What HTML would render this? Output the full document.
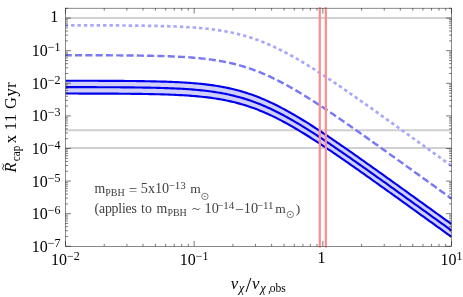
<!DOCTYPE html>
<html><head><meta charset="utf-8"><title>plot</title>
<style>
html,body{margin:0;padding:0;background:#fff;}
body{width:463px;height:297px;overflow:hidden;font-family:"Liberation Serif",serif;}
svg{display:block;font-family:"Liberation Serif",serif;}
.tl{font-size:16px;fill:#000;}
.sup{font-size:12px;}
.an{font-size:12px;fill:#444;}
.ans{font-size:8.5px;}
.ansup{font-size:8.5px;}
</style></head><body>
<svg width="463" height="297" viewBox="0 0 463 297" style="will-change:transform">
<rect width="463" height="297" fill="#fff"/>
<g stroke="#d0d0d0" stroke-width="2.0" fill="none">
<path d="M65.5 18.1H451.5"/><path d="M65.5 130.2H451.5"/><path d="M65.5 148.1H451.5"/>
</g>
<clipPath id="c"><rect x="65.5" y="8.2" width="386.0" height="238.10000000000002"/></clipPath>
<g clip-path="url(#c)" fill="none">
<path d="M65.5 80.73 L67.5 80.73 L69.5 80.74 L71.5 80.74 L73.5 80.74 L75.5 80.74 L77.5 80.75 L79.5 80.75 L81.5 80.76 L83.5 80.76 L85.5 80.76 L87.5 80.77 L89.5 80.77 L91.5 80.78 L93.5 80.78 L95.5 80.79 L97.5 80.80 L99.5 80.80 L101.5 80.81 L103.5 80.82 L105.5 80.83 L107.5 80.84 L109.5 80.84 L111.5 80.86 L113.5 80.87 L115.5 80.88 L117.5 80.89 L119.5 80.90 L121.5 80.92 L123.5 80.93 L125.5 80.95 L127.5 80.97 L129.5 80.99 L131.5 81.01 L133.5 81.03 L135.5 81.05 L137.5 81.08 L139.5 81.11 L141.5 81.14 L143.5 81.17 L145.5 81.20 L147.5 81.23 L149.5 81.27 L151.5 81.31 L153.5 81.36 L155.5 81.40 L157.5 81.45 L159.5 81.50 L161.5 81.56 L163.5 81.62 L165.5 81.68 L167.5 81.75 L169.5 81.83 L171.5 81.91 L173.5 81.99 L175.5 82.08 L177.5 82.17 L179.5 82.28 L181.5 82.38 L183.5 82.50 L185.5 82.62 L187.5 82.75 L189.5 82.89 L191.5 83.04 L193.5 83.20 L195.5 83.37 L197.5 83.55 L199.5 83.74 L201.5 83.94 L203.5 84.15 L205.5 84.38 L207.5 84.62 L209.5 84.87 L211.5 85.14 L213.5 85.43 L215.5 85.73 L217.5 86.04 L219.5 86.38 L221.5 86.73 L223.5 87.10 L225.5 87.50 L227.5 87.91 L229.5 88.34 L231.5 88.79 L233.5 89.27 L235.5 89.77 L237.5 90.29 L239.5 90.83 L241.5 91.40 L243.5 91.99 L245.5 92.60 L247.5 93.24 L249.5 93.91 L251.5 94.60 L253.5 95.31 L255.5 96.05 L257.5 96.82 L259.5 97.61 L261.5 98.42 L263.5 99.26 L265.5 100.12 L267.5 101.01 L269.5 101.92 L271.5 102.85 L273.5 103.81 L275.5 104.79 L277.5 105.79 L279.5 106.81 L281.5 107.85 L283.5 108.91 L285.5 109.99 L287.5 111.09 L289.5 112.21 L291.5 113.34 L293.5 114.49 L295.5 115.66 L297.5 116.84 L299.5 118.04 L301.5 119.25 L303.5 120.47 L305.5 121.71 L307.5 122.95 L309.5 124.21 L311.5 125.49 L313.5 126.77 L315.5 128.06 L317.5 129.36 L319.5 130.67 L321.5 131.98 L323.5 133.31 L325.5 134.64 L327.5 135.98 L329.5 137.33 L331.5 138.68 L333.5 140.04 L335.5 141.40 L337.5 142.77 L339.5 144.15 L341.5 145.53 L343.5 146.91 L345.5 148.30 L347.5 149.69 L349.5 151.08 L351.5 152.48 L353.5 153.88 L355.5 155.28 L357.5 156.69 L359.5 158.10 L361.5 159.51 L363.5 160.92 L365.5 162.34 L367.5 163.76 L369.5 165.18 L371.5 166.60 L373.5 168.02 L375.5 169.45 L377.5 170.87 L379.5 172.30 L381.5 173.73 L383.5 175.16 L385.5 176.59 L387.5 178.02 L389.5 179.45 L391.5 180.88 L393.5 182.32 L395.5 183.75 L397.5 185.19 L399.5 186.63 L401.5 188.06 L403.5 189.50 L405.5 190.94 L407.5 192.38 L409.5 193.82 L411.5 195.26 L413.5 196.70 L415.5 198.14 L417.5 199.58 L419.5 201.02 L421.5 202.46 L423.5 203.90 L425.5 205.34 L427.5 206.79 L429.5 208.23 L431.5 209.67 L433.5 211.11 L435.5 212.56 L437.5 214.00 L439.5 215.44 L441.5 216.89 L443.5 218.33 L445.5 219.78 L447.5 221.22 L449.5 222.66 L451.5 224.11 L451.5 236.91 L449.5 235.46 L447.5 234.02 L445.5 232.58 L443.5 231.13 L441.5 229.69 L439.5 228.24 L437.5 226.80 L435.5 225.36 L433.5 223.91 L431.5 222.47 L429.5 221.03 L427.5 219.59 L425.5 218.14 L423.5 216.70 L421.5 215.26 L419.5 213.82 L417.5 212.38 L415.5 210.94 L413.5 209.50 L411.5 208.06 L409.5 206.62 L407.5 205.18 L405.5 203.74 L403.5 202.30 L401.5 200.86 L399.5 199.43 L397.5 197.99 L395.5 196.55 L393.5 195.12 L391.5 193.68 L389.5 192.25 L387.5 190.82 L385.5 189.39 L383.5 187.96 L381.5 186.53 L379.5 185.10 L377.5 183.67 L375.5 182.25 L373.5 180.82 L371.5 179.40 L369.5 177.98 L367.5 176.56 L365.5 175.14 L363.5 173.72 L361.5 172.31 L359.5 170.90 L357.5 169.49 L355.5 168.08 L353.5 166.68 L351.5 165.28 L349.5 163.88 L347.5 162.49 L345.5 161.10 L343.5 159.71 L341.5 158.33 L339.5 156.95 L337.5 155.57 L335.5 154.20 L333.5 152.84 L331.5 151.48 L329.5 150.13 L327.5 148.78 L325.5 147.44 L323.5 146.11 L321.5 144.78 L319.5 143.47 L317.5 142.16 L315.5 140.86 L313.5 139.57 L311.5 138.29 L309.5 137.01 L307.5 135.75 L305.5 134.51 L303.5 133.27 L301.5 132.05 L299.5 130.84 L297.5 129.64 L295.5 128.46 L293.5 127.29 L291.5 126.14 L289.5 125.01 L287.5 123.89 L285.5 122.79 L283.5 121.71 L281.5 120.65 L279.5 119.61 L277.5 118.59 L275.5 117.59 L273.5 116.61 L271.5 115.65 L269.5 114.72 L267.5 113.81 L265.5 112.92 L263.5 112.06 L261.5 111.22 L259.5 110.41 L257.5 109.62 L255.5 108.85 L253.5 108.11 L251.5 107.40 L249.5 106.71 L247.5 106.04 L245.5 105.40 L243.5 104.79 L241.5 104.20 L239.5 103.63 L237.5 103.09 L235.5 102.57 L233.5 102.07 L231.5 101.59 L229.5 101.14 L227.5 100.71 L225.5 100.30 L223.5 99.90 L221.5 99.53 L219.5 99.18 L217.5 98.84 L215.5 98.53 L213.5 98.23 L211.5 97.94 L209.5 97.67 L207.5 97.42 L205.5 97.18 L203.5 96.95 L201.5 96.74 L199.5 96.54 L197.5 96.35 L195.5 96.17 L193.5 96.00 L191.5 95.84 L189.5 95.69 L187.5 95.55 L185.5 95.42 L183.5 95.30 L181.5 95.18 L179.5 95.08 L177.5 94.97 L175.5 94.88 L173.5 94.79 L171.5 94.71 L169.5 94.63 L167.5 94.55 L165.5 94.48 L163.5 94.42 L161.5 94.36 L159.5 94.30 L157.5 94.25 L155.5 94.20 L153.5 94.16 L151.5 94.11 L149.5 94.07 L147.5 94.03 L145.5 94.00 L143.5 93.97 L141.5 93.94 L139.5 93.91 L137.5 93.88 L135.5 93.85 L133.5 93.83 L131.5 93.81 L129.5 93.79 L127.5 93.77 L125.5 93.75 L123.5 93.73 L121.5 93.72 L119.5 93.70 L117.5 93.69 L115.5 93.68 L113.5 93.67 L111.5 93.66 L109.5 93.64 L107.5 93.64 L105.5 93.63 L103.5 93.62 L101.5 93.61 L99.5 93.60 L97.5 93.60 L95.5 93.59 L93.5 93.58 L91.5 93.58 L89.5 93.57 L87.5 93.57 L85.5 93.56 L83.5 93.56 L81.5 93.56 L79.5 93.55 L77.5 93.55 L75.5 93.54 L73.5 93.54 L71.5 93.54 L69.5 93.54 L67.5 93.53 L65.5 93.53 Z" fill="#d0d0f9" stroke="none"/>
<path d="M65.5 80.73 L67.5 80.73 L69.5 80.74 L71.5 80.74 L73.5 80.74 L75.5 80.74 L77.5 80.75 L79.5 80.75 L81.5 80.76 L83.5 80.76 L85.5 80.76 L87.5 80.77 L89.5 80.77 L91.5 80.78 L93.5 80.78 L95.5 80.79 L97.5 80.80 L99.5 80.80 L101.5 80.81 L103.5 80.82 L105.5 80.83 L107.5 80.84 L109.5 80.84 L111.5 80.86 L113.5 80.87 L115.5 80.88 L117.5 80.89 L119.5 80.90 L121.5 80.92 L123.5 80.93 L125.5 80.95 L127.5 80.97 L129.5 80.99 L131.5 81.01 L133.5 81.03 L135.5 81.05 L137.5 81.08 L139.5 81.11 L141.5 81.14 L143.5 81.17 L145.5 81.20 L147.5 81.23 L149.5 81.27 L151.5 81.31 L153.5 81.36 L155.5 81.40 L157.5 81.45 L159.5 81.50 L161.5 81.56 L163.5 81.62 L165.5 81.68 L167.5 81.75 L169.5 81.83 L171.5 81.91 L173.5 81.99 L175.5 82.08 L177.5 82.17 L179.5 82.28 L181.5 82.38 L183.5 82.50 L185.5 82.62 L187.5 82.75 L189.5 82.89 L191.5 83.04 L193.5 83.20 L195.5 83.37 L197.5 83.55 L199.5 83.74 L201.5 83.94 L203.5 84.15 L205.5 84.38 L207.5 84.62 L209.5 84.87 L211.5 85.14 L213.5 85.43 L215.5 85.73 L217.5 86.04 L219.5 86.38 L221.5 86.73 L223.5 87.10 L225.5 87.50 L227.5 87.91 L229.5 88.34 L231.5 88.79 L233.5 89.27 L235.5 89.77 L237.5 90.29 L239.5 90.83 L241.5 91.40 L243.5 91.99 L245.5 92.60 L247.5 93.24 L249.5 93.91 L251.5 94.60 L253.5 95.31 L255.5 96.05 L257.5 96.82 L259.5 97.61 L261.5 98.42 L263.5 99.26 L265.5 100.12 L267.5 101.01 L269.5 101.92 L271.5 102.85 L273.5 103.81 L275.5 104.79 L277.5 105.79 L279.5 106.81 L281.5 107.85 L283.5 108.91 L285.5 109.99 L287.5 111.09 L289.5 112.21 L291.5 113.34 L293.5 114.49 L295.5 115.66 L297.5 116.84 L299.5 118.04 L301.5 119.25 L303.5 120.47 L305.5 121.71 L307.5 122.95 L309.5 124.21 L311.5 125.49 L313.5 126.77 L315.5 128.06 L317.5 129.36 L319.5 130.67 L321.5 131.98 L323.5 133.31 L325.5 134.64 L327.5 135.98 L329.5 137.33 L331.5 138.68 L333.5 140.04 L335.5 141.40 L337.5 142.77 L339.5 144.15 L341.5 145.53 L343.5 146.91 L345.5 148.30 L347.5 149.69 L349.5 151.08 L351.5 152.48 L353.5 153.88 L355.5 155.28 L357.5 156.69 L359.5 158.10 L361.5 159.51 L363.5 160.92 L365.5 162.34 L367.5 163.76 L369.5 165.18 L371.5 166.60 L373.5 168.02 L375.5 169.45 L377.5 170.87 L379.5 172.30 L381.5 173.73 L383.5 175.16 L385.5 176.59 L387.5 178.02 L389.5 179.45 L391.5 180.88 L393.5 182.32 L395.5 183.75 L397.5 185.19 L399.5 186.63 L401.5 188.06 L403.5 189.50 L405.5 190.94 L407.5 192.38 L409.5 193.82 L411.5 195.26 L413.5 196.70 L415.5 198.14 L417.5 199.58 L419.5 201.02 L421.5 202.46 L423.5 203.90 L425.5 205.34 L427.5 206.79 L429.5 208.23 L431.5 209.67 L433.5 211.11 L435.5 212.56 L437.5 214.00 L439.5 215.44 L441.5 216.89 L443.5 218.33 L445.5 219.78 L447.5 221.22 L449.5 222.66 L451.5 224.11" stroke="#0000ee" stroke-width="2.15"/>
<path d="M65.5 87.13 L67.5 87.13 L69.5 87.14 L71.5 87.14 L73.5 87.14 L75.5 87.14 L77.5 87.15 L79.5 87.15 L81.5 87.16 L83.5 87.16 L85.5 87.16 L87.5 87.17 L89.5 87.17 L91.5 87.18 L93.5 87.18 L95.5 87.19 L97.5 87.20 L99.5 87.20 L101.5 87.21 L103.5 87.22 L105.5 87.23 L107.5 87.24 L109.5 87.24 L111.5 87.26 L113.5 87.27 L115.5 87.28 L117.5 87.29 L119.5 87.30 L121.5 87.32 L123.5 87.33 L125.5 87.35 L127.5 87.37 L129.5 87.39 L131.5 87.41 L133.5 87.43 L135.5 87.45 L137.5 87.48 L139.5 87.51 L141.5 87.54 L143.5 87.57 L145.5 87.60 L147.5 87.63 L149.5 87.67 L151.5 87.71 L153.5 87.76 L155.5 87.80 L157.5 87.85 L159.5 87.90 L161.5 87.96 L163.5 88.02 L165.5 88.08 L167.5 88.15 L169.5 88.23 L171.5 88.31 L173.5 88.39 L175.5 88.48 L177.5 88.57 L179.5 88.68 L181.5 88.78 L183.5 88.90 L185.5 89.02 L187.5 89.15 L189.5 89.29 L191.5 89.44 L193.5 89.60 L195.5 89.77 L197.5 89.95 L199.5 90.14 L201.5 90.34 L203.5 90.55 L205.5 90.78 L207.5 91.02 L209.5 91.27 L211.5 91.54 L213.5 91.83 L215.5 92.13 L217.5 92.44 L219.5 92.78 L221.5 93.13 L223.5 93.50 L225.5 93.90 L227.5 94.31 L229.5 94.74 L231.5 95.19 L233.5 95.67 L235.5 96.17 L237.5 96.69 L239.5 97.23 L241.5 97.80 L243.5 98.39 L245.5 99.00 L247.5 99.64 L249.5 100.31 L251.5 101.00 L253.5 101.71 L255.5 102.45 L257.5 103.22 L259.5 104.01 L261.5 104.82 L263.5 105.66 L265.5 106.52 L267.5 107.41 L269.5 108.32 L271.5 109.25 L273.5 110.21 L275.5 111.19 L277.5 112.19 L279.5 113.21 L281.5 114.25 L283.5 115.31 L285.5 116.39 L287.5 117.49 L289.5 118.61 L291.5 119.74 L293.5 120.89 L295.5 122.06 L297.5 123.24 L299.5 124.44 L301.5 125.65 L303.5 126.87 L305.5 128.11 L307.5 129.35 L309.5 130.61 L311.5 131.89 L313.5 133.17 L315.5 134.46 L317.5 135.76 L319.5 137.07 L321.5 138.38 L323.5 139.71 L325.5 141.04 L327.5 142.38 L329.5 143.73 L331.5 145.08 L333.5 146.44 L335.5 147.80 L337.5 149.17 L339.5 150.55 L341.5 151.93 L343.5 153.31 L345.5 154.70 L347.5 156.09 L349.5 157.48 L351.5 158.88 L353.5 160.28 L355.5 161.68 L357.5 163.09 L359.5 164.50 L361.5 165.91 L363.5 167.32 L365.5 168.74 L367.5 170.16 L369.5 171.58 L371.5 173.00 L373.5 174.42 L375.5 175.85 L377.5 177.27 L379.5 178.70 L381.5 180.13 L383.5 181.56 L385.5 182.99 L387.5 184.42 L389.5 185.85 L391.5 187.28 L393.5 188.72 L395.5 190.15 L397.5 191.59 L399.5 193.03 L401.5 194.46 L403.5 195.90 L405.5 197.34 L407.5 198.78 L409.5 200.22 L411.5 201.66 L413.5 203.10 L415.5 204.54 L417.5 205.98 L419.5 207.42 L421.5 208.86 L423.5 210.30 L425.5 211.74 L427.5 213.19 L429.5 214.63 L431.5 216.07 L433.5 217.51 L435.5 218.96 L437.5 220.40 L439.5 221.84 L441.5 223.29 L443.5 224.73 L445.5 226.18 L447.5 227.62 L449.5 229.06 L451.5 230.51" stroke="#0000ee" stroke-width="2.15"/>
<path d="M65.5 93.53 L67.5 93.53 L69.5 93.54 L71.5 93.54 L73.5 93.54 L75.5 93.54 L77.5 93.55 L79.5 93.55 L81.5 93.56 L83.5 93.56 L85.5 93.56 L87.5 93.57 L89.5 93.57 L91.5 93.58 L93.5 93.58 L95.5 93.59 L97.5 93.60 L99.5 93.60 L101.5 93.61 L103.5 93.62 L105.5 93.63 L107.5 93.64 L109.5 93.64 L111.5 93.66 L113.5 93.67 L115.5 93.68 L117.5 93.69 L119.5 93.70 L121.5 93.72 L123.5 93.73 L125.5 93.75 L127.5 93.77 L129.5 93.79 L131.5 93.81 L133.5 93.83 L135.5 93.85 L137.5 93.88 L139.5 93.91 L141.5 93.94 L143.5 93.97 L145.5 94.00 L147.5 94.03 L149.5 94.07 L151.5 94.11 L153.5 94.16 L155.5 94.20 L157.5 94.25 L159.5 94.30 L161.5 94.36 L163.5 94.42 L165.5 94.48 L167.5 94.55 L169.5 94.63 L171.5 94.71 L173.5 94.79 L175.5 94.88 L177.5 94.97 L179.5 95.08 L181.5 95.18 L183.5 95.30 L185.5 95.42 L187.5 95.55 L189.5 95.69 L191.5 95.84 L193.5 96.00 L195.5 96.17 L197.5 96.35 L199.5 96.54 L201.5 96.74 L203.5 96.95 L205.5 97.18 L207.5 97.42 L209.5 97.67 L211.5 97.94 L213.5 98.23 L215.5 98.53 L217.5 98.84 L219.5 99.18 L221.5 99.53 L223.5 99.90 L225.5 100.30 L227.5 100.71 L229.5 101.14 L231.5 101.59 L233.5 102.07 L235.5 102.57 L237.5 103.09 L239.5 103.63 L241.5 104.20 L243.5 104.79 L245.5 105.40 L247.5 106.04 L249.5 106.71 L251.5 107.40 L253.5 108.11 L255.5 108.85 L257.5 109.62 L259.5 110.41 L261.5 111.22 L263.5 112.06 L265.5 112.92 L267.5 113.81 L269.5 114.72 L271.5 115.65 L273.5 116.61 L275.5 117.59 L277.5 118.59 L279.5 119.61 L281.5 120.65 L283.5 121.71 L285.5 122.79 L287.5 123.89 L289.5 125.01 L291.5 126.14 L293.5 127.29 L295.5 128.46 L297.5 129.64 L299.5 130.84 L301.5 132.05 L303.5 133.27 L305.5 134.51 L307.5 135.75 L309.5 137.01 L311.5 138.29 L313.5 139.57 L315.5 140.86 L317.5 142.16 L319.5 143.47 L321.5 144.78 L323.5 146.11 L325.5 147.44 L327.5 148.78 L329.5 150.13 L331.5 151.48 L333.5 152.84 L335.5 154.20 L337.5 155.57 L339.5 156.95 L341.5 158.33 L343.5 159.71 L345.5 161.10 L347.5 162.49 L349.5 163.88 L351.5 165.28 L353.5 166.68 L355.5 168.08 L357.5 169.49 L359.5 170.90 L361.5 172.31 L363.5 173.72 L365.5 175.14 L367.5 176.56 L369.5 177.98 L371.5 179.40 L373.5 180.82 L375.5 182.25 L377.5 183.67 L379.5 185.10 L381.5 186.53 L383.5 187.96 L385.5 189.39 L387.5 190.82 L389.5 192.25 L391.5 193.68 L393.5 195.12 L395.5 196.55 L397.5 197.99 L399.5 199.43 L401.5 200.86 L403.5 202.30 L405.5 203.74 L407.5 205.18 L409.5 206.62 L411.5 208.06 L413.5 209.50 L415.5 210.94 L417.5 212.38 L419.5 213.82 L421.5 215.26 L423.5 216.70 L425.5 218.14 L427.5 219.59 L429.5 221.03 L431.5 222.47 L433.5 223.91 L435.5 225.36 L437.5 226.80 L439.5 228.24 L441.5 229.69 L443.5 231.13 L445.5 232.58 L447.5 234.02 L449.5 235.46 L451.5 236.91" stroke="#0000ee" stroke-width="2.15"/>
<path d="M65.5 55.23 L67.5 55.23 L69.5 55.24 L71.5 55.24 L73.5 55.24 L75.5 55.24 L77.5 55.25 L79.5 55.25 L81.5 55.26 L83.5 55.26 L85.5 55.26 L87.5 55.27 L89.5 55.27 L91.5 55.28 L93.5 55.28 L95.5 55.29 L97.5 55.30 L99.5 55.30 L101.5 55.31 L103.5 55.32 L105.5 55.33 L107.5 55.34 L109.5 55.34 L111.5 55.36 L113.5 55.37 L115.5 55.38 L117.5 55.39 L119.5 55.40 L121.5 55.42 L123.5 55.43 L125.5 55.45 L127.5 55.47 L129.5 55.49 L131.5 55.51 L133.5 55.53 L135.5 55.55 L137.5 55.58 L139.5 55.61 L141.5 55.64 L143.5 55.67 L145.5 55.70 L147.5 55.73 L149.5 55.77 L151.5 55.81 L153.5 55.86 L155.5 55.90 L157.5 55.95 L159.5 56.00 L161.5 56.06 L163.5 56.12 L165.5 56.18 L167.5 56.25 L169.5 56.33 L171.5 56.41 L173.5 56.49 L175.5 56.58 L177.5 56.67 L179.5 56.78 L181.5 56.88 L183.5 57.00 L185.5 57.12 L187.5 57.25 L189.5 57.39 L191.5 57.54 L193.5 57.70 L195.5 57.87 L197.5 58.05 L199.5 58.24 L201.5 58.44 L203.5 58.65 L205.5 58.88 L207.5 59.12 L209.5 59.37 L211.5 59.64 L213.5 59.93 L215.5 60.23 L217.5 60.54 L219.5 60.88 L221.5 61.23 L223.5 61.60 L225.5 62.00 L227.5 62.41 L229.5 62.84 L231.5 63.29 L233.5 63.77 L235.5 64.27 L237.5 64.79 L239.5 65.33 L241.5 65.90 L243.5 66.49 L245.5 67.10 L247.5 67.74 L249.5 68.41 L251.5 69.10 L253.5 69.81 L255.5 70.55 L257.5 71.32 L259.5 72.11 L261.5 72.92 L263.5 73.76 L265.5 74.62 L267.5 75.51 L269.5 76.42 L271.5 77.35 L273.5 78.31 L275.5 79.29 L277.5 80.29 L279.5 81.31 L281.5 82.35 L283.5 83.41 L285.5 84.49 L287.5 85.59 L289.5 86.71 L291.5 87.84 L293.5 88.99 L295.5 90.16 L297.5 91.34 L299.5 92.54 L301.5 93.75 L303.5 94.97 L305.5 96.21 L307.5 97.45 L309.5 98.71 L311.5 99.99 L313.5 101.27 L315.5 102.56 L317.5 103.86 L319.5 105.17 L321.5 106.48 L323.5 107.81 L325.5 109.14 L327.5 110.48 L329.5 111.83 L331.5 113.18 L333.5 114.54 L335.5 115.90 L337.5 117.27 L339.5 118.65 L341.5 120.03 L343.5 121.41 L345.5 122.80 L347.5 124.19 L349.5 125.58 L351.5 126.98 L353.5 128.38 L355.5 129.78 L357.5 131.19 L359.5 132.60 L361.5 134.01 L363.5 135.42 L365.5 136.84 L367.5 138.26 L369.5 139.68 L371.5 141.10 L373.5 142.52 L375.5 143.95 L377.5 145.37 L379.5 146.80 L381.5 148.23 L383.5 149.66 L385.5 151.09 L387.5 152.52 L389.5 153.95 L391.5 155.38 L393.5 156.82 L395.5 158.25 L397.5 159.69 L399.5 161.13 L401.5 162.56 L403.5 164.00 L405.5 165.44 L407.5 166.88 L409.5 168.32 L411.5 169.76 L413.5 171.20 L415.5 172.64 L417.5 174.08 L419.5 175.52 L421.5 176.96 L423.5 178.40 L425.5 179.84 L427.5 181.29 L429.5 182.73 L431.5 184.17 L433.5 185.61 L435.5 187.06 L437.5 188.50 L439.5 189.94 L441.5 191.39 L443.5 192.83 L445.5 194.28 L447.5 195.72 L449.5 197.16 L451.5 198.61" stroke="#7878f5" stroke-width="2.45" stroke-dasharray="7.1 3.2" stroke-dashoffset="0.8"/>
<path d="M65.5 25.33 L67.5 25.33 L69.5 25.33 L71.5 25.33 L73.5 25.34 L75.5 25.34 L77.5 25.34 L79.5 25.35 L81.5 25.35 L83.5 25.35 L85.5 25.36 L87.5 25.36 L89.5 25.36 L91.5 25.37 L93.5 25.37 L95.5 25.38 L97.5 25.38 L99.5 25.39 L101.5 25.40 L103.5 25.40 L105.5 25.41 L107.5 25.42 L109.5 25.43 L111.5 25.44 L113.5 25.45 L115.5 25.46 L117.5 25.47 L119.5 25.48 L121.5 25.49 L123.5 25.51 L125.5 25.52 L127.5 25.54 L129.5 25.55 L131.5 25.57 L133.5 25.59 L135.5 25.61 L137.5 25.63 L139.5 25.66 L141.5 25.68 L143.5 25.71 L145.5 25.74 L147.5 25.77 L149.5 25.80 L151.5 25.84 L153.5 25.87 L155.5 25.92 L157.5 25.96 L159.5 26.00 L161.5 26.05 L163.5 26.11 L165.5 26.16 L167.5 26.22 L169.5 26.29 L171.5 26.36 L173.5 26.43 L175.5 26.51 L177.5 26.60 L179.5 26.68 L181.5 26.78 L183.5 26.88 L185.5 26.99 L187.5 27.11 L189.5 27.23 L191.5 27.36 L193.5 27.50 L195.5 27.65 L197.5 27.81 L199.5 27.98 L201.5 28.16 L203.5 28.35 L205.5 28.55 L207.5 28.77 L209.5 28.99 L211.5 29.24 L213.5 29.49 L215.5 29.76 L217.5 30.05 L219.5 30.35 L221.5 30.67 L223.5 31.00 L225.5 31.36 L227.5 31.73 L229.5 32.12 L231.5 32.54 L233.5 32.97 L235.5 33.43 L237.5 33.90 L239.5 34.40 L241.5 34.92 L243.5 35.47 L245.5 36.04 L247.5 36.63 L249.5 37.25 L251.5 37.89 L253.5 38.56 L255.5 39.25 L257.5 39.96 L259.5 40.70 L261.5 41.47 L263.5 42.26 L265.5 43.08 L267.5 43.92 L269.5 44.78 L271.5 45.67 L273.5 46.58 L275.5 47.52 L277.5 48.48 L279.5 49.46 L281.5 50.46 L283.5 51.48 L285.5 52.52 L287.5 53.58 L289.5 54.67 L291.5 55.77 L293.5 56.88 L295.5 58.02 L297.5 59.17 L299.5 60.34 L301.5 61.52 L303.5 62.72 L305.5 63.93 L307.5 65.16 L309.5 66.39 L311.5 67.64 L313.5 68.90 L315.5 70.17 L317.5 71.46 L319.5 72.75 L321.5 74.05 L323.5 75.36 L325.5 76.68 L327.5 78.00 L329.5 79.34 L331.5 80.68 L333.5 82.02 L335.5 83.38 L337.5 84.74 L339.5 86.10 L341.5 87.47 L343.5 88.84 L345.5 90.22 L347.5 91.61 L349.5 92.99 L351.5 94.38 L353.5 95.78 L355.5 97.18 L357.5 98.58 L359.5 99.98 L361.5 101.39 L363.5 102.80 L365.5 104.21 L367.5 105.62 L369.5 107.04 L371.5 108.46 L373.5 109.88 L375.5 111.30 L377.5 112.72 L379.5 114.14 L381.5 115.57 L383.5 117.00 L385.5 118.43 L387.5 119.86 L389.5 121.29 L391.5 122.72 L393.5 124.15 L395.5 125.58 L397.5 127.02 L399.5 128.45 L401.5 129.89 L403.5 131.33 L405.5 132.76 L407.5 134.20 L409.5 135.64 L411.5 137.08 L413.5 138.52 L415.5 139.96 L417.5 141.40 L419.5 142.84 L421.5 144.28 L423.5 145.72 L425.5 147.16 L427.5 148.60 L429.5 150.05 L431.5 151.49 L433.5 152.93 L435.5 154.37 L437.5 155.82 L439.5 157.26 L441.5 158.70 L443.5 160.15 L445.5 161.59 L447.5 163.03 L449.5 164.48 L451.5 165.92" stroke="#a8a8fb" stroke-width="2.7" stroke-dasharray="3.4 3.0" stroke-dashoffset="0.85"/>
</g>
<path d="M319.8 7.3V247.5M325.85 7.3V247.5" stroke="#ff8c8c" stroke-width="2.2" fill="none"/>
<rect x="65.5" y="8.2" width="386.0" height="238.10000000000002" fill="none" stroke="#2a2a2a" stroke-width="0.55"/>
<path d="M65.50 246.30v-5.40 M65.50 8.20v5.40 M104.23 246.30v-2.40 M104.23 8.20v2.40 M126.89 246.30v-2.40 M126.89 8.20v2.40 M142.97 246.30v-2.40 M142.97 8.20v2.40 M155.43 246.30v-2.40 M155.43 8.20v2.40 M165.62 246.30v-2.40 M165.62 8.20v2.40 M174.24 246.30v-2.40 M174.24 8.20v2.40 M181.70 246.30v-2.40 M181.70 8.20v2.40 M188.28 246.30v-2.40 M188.28 8.20v2.40 M194.17 246.30v-5.40 M194.17 8.20v5.40 M232.90 246.30v-2.40 M232.90 8.20v2.40 M255.56 246.30v-2.40 M255.56 8.20v2.40 M271.63 246.30v-2.40 M271.63 8.20v2.40 M284.10 246.30v-2.40 M284.10 8.20v2.40 M294.29 246.30v-2.40 M294.29 8.20v2.40 M302.90 246.30v-2.40 M302.90 8.20v2.40 M310.36 246.30v-2.40 M310.36 8.20v2.40 M316.95 246.30v-2.40 M316.95 8.20v2.40 M322.83 246.30v-5.40 M322.83 8.20v5.40 M361.57 246.30v-2.40 M361.57 8.20v2.40 M384.22 246.30v-2.40 M384.22 8.20v2.40 M400.30 246.30v-2.40 M400.30 8.20v2.40 M412.77 246.30v-2.40 M412.77 8.20v2.40 M422.96 246.30v-2.40 M422.96 8.20v2.40 M431.57 246.30v-2.40 M431.57 8.20v2.40 M439.03 246.30v-2.40 M439.03 8.20v2.40 M445.61 246.30v-2.40 M445.61 8.20v2.40 M451.50 246.30v-5.40 M451.50 8.20v5.40 M65.50 246.30h5.40 M451.50 246.30h-5.40 M65.50 236.49h2.40 M451.50 236.49h-2.40 M65.50 230.75h2.40 M451.50 230.75h-2.40 M65.50 226.67h2.40 M451.50 226.67h-2.40 M65.50 223.51h2.40 M451.50 223.51h-2.40 M65.50 220.93h2.40 M451.50 220.93h-2.40 M65.50 218.75h2.40 M451.50 218.75h-2.40 M65.50 216.86h2.40 M451.50 216.86h-2.40 M65.50 215.19h2.40 M451.50 215.19h-2.40 M65.50 213.70h5.40 M451.50 213.70h-5.40 M65.50 203.89h2.40 M451.50 203.89h-2.40 M65.50 198.15h2.40 M451.50 198.15h-2.40 M65.50 194.07h2.40 M451.50 194.07h-2.40 M65.50 190.91h2.40 M451.50 190.91h-2.40 M65.50 188.33h2.40 M451.50 188.33h-2.40 M65.50 186.15h2.40 M451.50 186.15h-2.40 M65.50 184.26h2.40 M451.50 184.26h-2.40 M65.50 182.59h2.40 M451.50 182.59h-2.40 M65.50 181.10h5.40 M451.50 181.10h-5.40 M65.50 171.29h2.40 M451.50 171.29h-2.40 M65.50 165.55h2.40 M451.50 165.55h-2.40 M65.50 161.47h2.40 M451.50 161.47h-2.40 M65.50 158.31h2.40 M451.50 158.31h-2.40 M65.50 155.73h2.40 M451.50 155.73h-2.40 M65.50 153.55h2.40 M451.50 153.55h-2.40 M65.50 151.66h2.40 M451.50 151.66h-2.40 M65.50 149.99h2.40 M451.50 149.99h-2.40 M65.50 148.50h5.40 M451.50 148.50h-5.40 M65.50 138.69h2.40 M451.50 138.69h-2.40 M65.50 132.95h2.40 M451.50 132.95h-2.40 M65.50 128.87h2.40 M451.50 128.87h-2.40 M65.50 125.71h2.40 M451.50 125.71h-2.40 M65.50 123.13h2.40 M451.50 123.13h-2.40 M65.50 120.95h2.40 M451.50 120.95h-2.40 M65.50 119.06h2.40 M451.50 119.06h-2.40 M65.50 117.39h2.40 M451.50 117.39h-2.40 M65.50 115.90h5.40 M451.50 115.90h-5.40 M65.50 106.09h2.40 M451.50 106.09h-2.40 M65.50 100.35h2.40 M451.50 100.35h-2.40 M65.50 96.27h2.40 M451.50 96.27h-2.40 M65.50 93.11h2.40 M451.50 93.11h-2.40 M65.50 90.53h2.40 M451.50 90.53h-2.40 M65.50 88.35h2.40 M451.50 88.35h-2.40 M65.50 86.46h2.40 M451.50 86.46h-2.40 M65.50 84.79h2.40 M451.50 84.79h-2.40 M65.50 83.30h5.40 M451.50 83.30h-5.40 M65.50 73.49h2.40 M451.50 73.49h-2.40 M65.50 67.75h2.40 M451.50 67.75h-2.40 M65.50 63.67h2.40 M451.50 63.67h-2.40 M65.50 60.51h2.40 M451.50 60.51h-2.40 M65.50 57.93h2.40 M451.50 57.93h-2.40 M65.50 55.75h2.40 M451.50 55.75h-2.40 M65.50 53.86h2.40 M451.50 53.86h-2.40 M65.50 52.19h2.40 M451.50 52.19h-2.40 M65.50 50.70h5.40 M451.50 50.70h-5.40 M65.50 40.89h2.40 M451.50 40.89h-2.40 M65.50 35.15h2.40 M451.50 35.15h-2.40 M65.50 31.07h2.40 M451.50 31.07h-2.40 M65.50 27.91h2.40 M451.50 27.91h-2.40 M65.50 25.33h2.40 M451.50 25.33h-2.40 M65.50 23.15h2.40 M451.50 23.15h-2.40 M65.50 21.26h2.40 M451.50 21.26h-2.40 M65.50 19.59h2.40 M451.50 19.59h-2.40 M65.50 18.10h5.40 M451.50 18.10h-5.40 M65.50 8.29h2.40 M451.50 8.29h-2.40" stroke="#222" stroke-width="0.62" fill="none"/>
<text x="58.2" y="21.8" text-anchor="end" class="tl">1</text>
<text x="60.6" y="56.2" text-anchor="end" class="tl">10<tspan class="sup" dy="-5">−1</tspan></text>
<text x="60.6" y="88.8" text-anchor="end" class="tl">10<tspan class="sup" dy="-5">−2</tspan></text>
<text x="60.6" y="121.4" text-anchor="end" class="tl">10<tspan class="sup" dy="-5">−3</tspan></text>
<text x="60.6" y="154.0" text-anchor="end" class="tl">10<tspan class="sup" dy="-5">−4</tspan></text>
<text x="60.6" y="186.6" text-anchor="end" class="tl">10<tspan class="sup" dy="-5">−5</tspan></text>
<text x="60.6" y="219.2" text-anchor="end" class="tl">10<tspan class="sup" dy="-5">−6</tspan></text>
<text x="60.6" y="251.8" text-anchor="end" class="tl">10<tspan class="sup" dy="-5">−7</tspan></text>
<text x="51.1" y="264.7" class="tl">10<tspan class="sup" dy="-5">−2</tspan></text>
<text x="179.8" y="264.7" class="tl">10<tspan class="sup" dy="-5">−1</tspan></text>
<text x="321.5" y="263.0" text-anchor="middle" class="tl">1</text>
<text x="440.5" y="264.7" class="tl">10<tspan class="sup" dy="-5">1</tspan></text>
<g transform="translate(16.4,172.6) rotate(-90)" style="font-size:16.5px">
<text x="0" y="0" font-style="italic">R</text>
<text x="11.4" y="3.3" style="font-size:12.5px" textLength="15.4" lengthAdjust="spacingAndGlyphs">cap</text>
<text x="29.4" y="0">x</text>
<text x="42.3" y="0" style="letter-spacing:0.6px">11</text>
<text x="63.5" y="0" style="letter-spacing:0.6px">Gyr</text>
<path d="M2.6 -12.6c1-1.5 2-1.5 3-0.6s2 0.9 3-0.6" fill="none" stroke="#000" stroke-width="0.9"/>
</g>
<g font-style="italic"><text x="230.7" y="289.4" style="font-size:16.8px">v</text><text x="251.9" y="289.4" style="font-size:16.8px">v</text>
<text x="238.8" y="292.3" style="font-size:12.7px">χ</text><text x="260.3" y="292.3" style="font-size:12.7px">χ</text></g>
<text x="245.4" y="292.4" style="font-size:21.2px">/</text>
<text x="267.9" y="291.7" style="font-size:11.6px">,</text><text x="269.7" y="291.7" style="font-size:11.6px">obs</text>
<g fill="#404040"><text x="94.4" y="193.4" style="font-size:13.8px" >m</text><text x="105.2" y="196.0" style="font-size:10px" >PBH</text><text x="128.8" y="195.4" style="font-size:15px" >=</text><text x="140.8" y="193.4" style="font-size:14.2px" >5x10</text><text x="168.6" y="189.1" style="font-size:11px" >−13</text><text x="190.3" y="193.4" style="font-size:13.5px" >m</text><circle cx="204.9" cy="196.4" r="3.2" fill="none" stroke="#4a4a4a" stroke-width="0.7"/><circle cx="204.9" cy="196.4" r="0.7" fill="#4a4a4a"/><text x="94.6" y="213.1" style="font-size:13.8px" letter-spacing="-0.2">(applies</text><text x="141.1" y="213.1" style="font-size:13.8px" >to</text><text x="156.4" y="213.1" style="font-size:13.8px" >m</text><text x="167.4" y="215.7" style="font-size:10px" >PBH</text><path d="M192.2 209.7c1.2-1.6 2.5-1.7 3.9-0.7s2.7 0.9 3.9-0.7" fill="none" stroke="#404040" stroke-width="0.9"/><text x="204.6" y="213.1" style="font-size:14.2px" >10</text><text x="217.0" y="208.8" style="font-size:11px" >−14</text><text x="236.0" y="213.1" style="font-size:14px" >–</text><text x="243.8" y="213.1" style="font-size:14.2px" >10</text><text x="256.8" y="208.8" style="font-size:11px" >−11</text><text x="275.3" y="213.1" style="font-size:13.5px" >m</text><circle cx="290.3" cy="214.5" r="3.2" fill="none" stroke="#4a4a4a" stroke-width="0.7"/><circle cx="290.3" cy="214.5" r="0.7" fill="#4a4a4a"/><text x="295.8" y="213.1" style="font-size:13.5px" >)</text></g>
</svg>
</body></html>
